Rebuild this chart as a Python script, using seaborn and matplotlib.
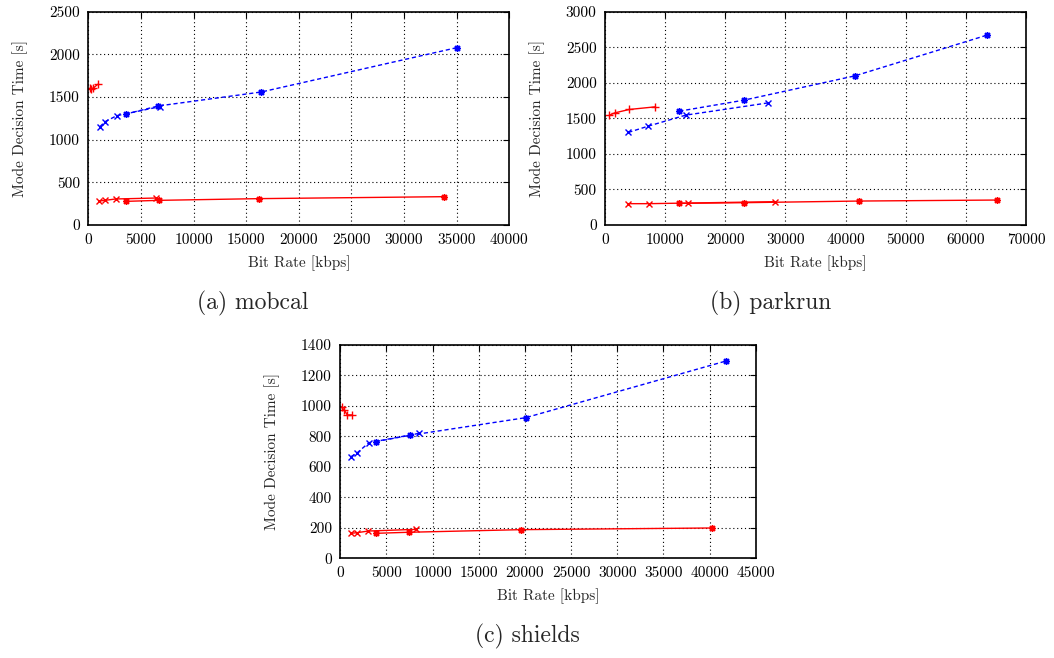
import matplotlib
matplotlib.use("Agg")
import matplotlib.pyplot as plt
import seaborn as sns
import pandas as pd

# ---------------- data ----------------
# (a) mobcal
mob_red_plus_x = [150, 300, 480, 880]
mob_red_plus_y = [1600, 1595, 1605, 1648]
mob_blue_x_x = [1100, 1590, 2700, 6800]
mob_blue_x_y = [1152, 1211, 1281, 1387]
mob_blue_s_x = [3580, 6650, 16440, 35000]
mob_blue_s_y = [1301, 1395, 1559, 2078]
mob_red_x_x = [1045, 1583, 2597, 6397]
mob_red_x_y = [281, 289, 305, 316]
mob_red_s_x = [3547, 6746, 16215, 33824]
mob_red_s_y = [277, 289, 309, 332]

# (b) parkrun
park_red_plus_x = [720, 1663, 4046, 8369]
park_red_plus_y = [1545, 1578, 1625, 1662]
park_blue_x_x = [3880, 7205, 13412, 27156]
park_blue_x_y = [1302, 1391, 1545, 1718]
park_blue_s_x = [12360, 23110, 41570, 63460]
park_blue_s_y = [1601, 1756, 2098, 2669]
park_red_x_x = [3769, 7315, 13855, 28320]
park_red_x_y = [300, 300, 309, 328]
park_red_s_x = [12360, 23170, 42290, 65120]
park_red_s_y = [304, 314, 337, 351]

# (c) shields
shi_red_plus_x = [150, 450, 750, 1250]
shi_red_plus_y = [990, 972, 941, 941]
shi_blue_x_x = [1156, 1842, 3106, 8524]
shi_blue_x_y = [667, 693, 759, 820]
shi_blue_s_x = [3865, 7513, 20083, 41790]
shi_blue_s_y = [766, 807, 923, 1295]
shi_red_x_x = [1120, 1806, 3034, 8163]
shi_red_x_y = [164, 168, 179, 190]
shi_red_s_x = [3829, 7477, 19577, 40238]
shi_red_s_y = [164, 171, 188, 199]

captions = ["(a) mobcal", "(b) parkrun", "(c) shields"]
x_label = "Bit Rate [kbps]"
y_label = "Mode Decision Time [s]"

# ---------------- style ----------------
sns.set_style("white")
plt.rcParams['font.family'] = ['cmr10', 'DejaVu Serif']
plt.rcParams['mathtext.fontset'] = 'cm'
plt.rcParams['axes.formatter.use_mathtext'] = True

RED = "#ff0000"
BLUE = "#0000ff"
ASTER = (8, 2, 0)

fig = plt.figure(figsize=(10.54, 6.58), dpi=100)
W, H = 1054, 658

def make_ax(left, top, right, bottom):
    return fig.add_axes([left / W, 1 - bottom / H, (right - left) / W, (bottom - top) / H])

ax_a = make_ax(88.3, 11.7, 509.3, 225)
ax_b = make_ax(605, 11.7, 1026, 225)
ax_c = make_ax(340.3, 345, 755.7, 558.3)

def series(ax, xs, ys, color, marker, ls, ms):
    df = pd.DataFrame({"x": xs, "y": ys})
    sns.lineplot(data=df, x="x", y="y", ax=ax, sort=False, color=color,
                 marker=marker, linestyle=ls, linewidth=1.0, markersize=ms,
                 markeredgewidth=1.0, markeredgecolor=color, markerfacecolor=color,
                 estimator=None, legend=False)

def panel(ax, rp, bx, bs, rx, rs, xlim, xticks, ylim, yticks):
    series(ax, rp[0], rp[1], RED, "+", "-", 6)
    series(ax, rx[0], rx[1], RED, "x", "-", 4.5)
    series(ax, rs[0], rs[1], RED, ASTER, "-", 5)
    series(ax, bx[0], bx[1], BLUE, "x", (0, (3, 2)), 4.5)
    series(ax, bs[0], bs[1], BLUE, ASTER, (0, (3, 2)), 5)
    ax.set_xlim(*xlim)
    ax.set_ylim(*ylim)
    ax.set_xticks(xticks)
    ax.set_yticks(yticks)
    ax.set_xticklabels([str(t) for t in xticks])
    ax.set_yticklabels([str(t) for t in yticks])
    ax.grid(True, color="black", linestyle=(0, (1, 2.5)), linewidth=0.8)
    ax.set_axisbelow(True)
    for s in ax.spines.values():
        s.set_visible(True)
        s.set_color("black")
        s.set_linewidth(1.2)
    ax.tick_params(direction="in", length=4, width=0.8, top=True, right=True,
                   labelsize=11, pad=6, colors="black")
    ax.set_xlabel(x_label, fontsize=11, labelpad=6)
    ax.set_ylabel(y_label, fontsize=11, labelpad=15)

panel(ax_a, (mob_red_plus_x, mob_red_plus_y), (mob_blue_x_x, mob_blue_x_y),
      (mob_blue_s_x, mob_blue_s_y), (mob_red_x_x, mob_red_x_y), (mob_red_s_x, mob_red_s_y),
      (0, 40000), list(range(0, 40001, 5000)), (0, 2500), list(range(0, 2501, 500)))
panel(ax_b, (park_red_plus_x, park_red_plus_y), (park_blue_x_x, park_blue_x_y),
      (park_blue_s_x, park_blue_s_y), (park_red_x_x, park_red_x_y), (park_red_s_x, park_red_s_y),
      (0, 70000), list(range(0, 70001, 10000)), (0, 3000), list(range(0, 3001, 500)))
panel(ax_c, (shi_red_plus_x, shi_red_plus_y), (shi_blue_x_x, shi_blue_x_y),
      (shi_blue_s_x, shi_blue_s_y), (shi_red_x_x, shi_red_x_y), (shi_red_s_x, shi_red_s_y),
      (0, 45000), list(range(0, 45001, 5000)), (0, 1400), list(range(0, 1401, 200)))

fig.text(253 / W, 1 - 303 / H, captions[0], ha="center", va="center", fontsize=17)
fig.text(771 / W, 1 - 303 / H, captions[1], ha="center", va="center", fontsize=17)
fig.text(527 / W, 1 - 636 / H, captions[2], ha="center", va="center", fontsize=17)

fig.savefig("out.png", dpi=100, facecolor="white")
